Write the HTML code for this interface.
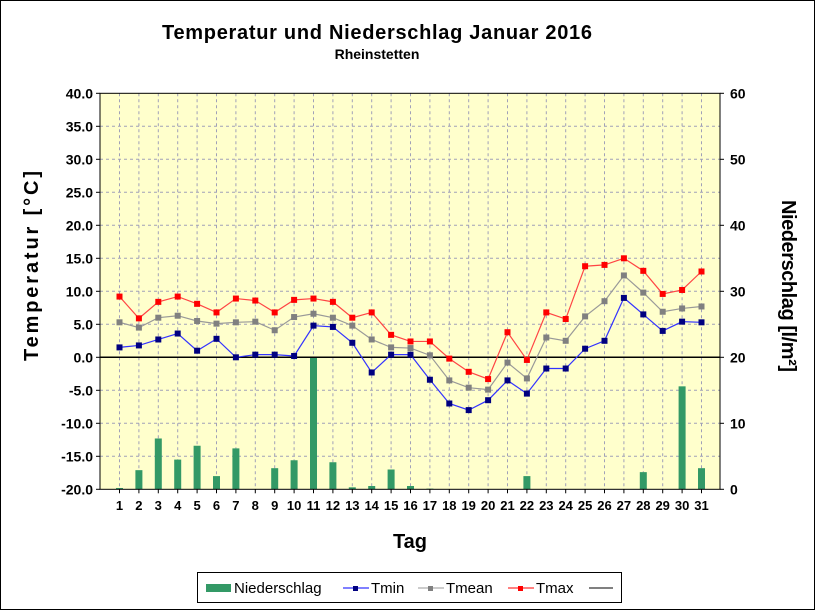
<!DOCTYPE html>
<html><head><meta charset="utf-8"><style>
body{margin:0;background:#fff}
svg{display:block;font-family:"Liberation Sans",Arial,sans-serif}
</style></head><body>
<svg id="c" width="815" height="610" viewBox="0 0 815 610">
<rect x="0.5" y="0.5" width="814" height="609" fill="#fff" stroke="#000"/>
<text x="377" y="39" text-anchor="middle" font-size="20" font-weight="bold" textLength="430">Temperatur und Niederschlag  Januar 2016</text>
<text x="377" y="59" text-anchor="middle" font-size="14" font-weight="bold">Rheinstetten</text>
<g id="plot"></g>
<text transform="translate(38,266) rotate(-90)" text-anchor="middle" font-size="20" font-weight="bold" textLength="190">Temperatur [°C]</text>
<text transform="translate(782,286) rotate(90)" text-anchor="middle" font-size="20" font-weight="bold" textLength="172">Niederschlag [l/m²]</text>
<text x="410" y="548" text-anchor="middle" font-size="20" font-weight="bold">Tag</text>
<g>
<rect x="197.5" y="572.5" width="424" height="30" fill="#fff" stroke="#000"/>
<rect x="206" y="584" width="25" height="8" fill="#339966"/>
<text x="234" y="593" font-size="15">Niederschlag</text>
<line x1="343" y1="588" x2="369" y2="588" stroke="#0000ff"/><rect x="353" y="586" width="5" height="5" fill="#000080"/>
<text x="371" y="593" font-size="15">Tmin</text>
<line x1="418" y1="588" x2="444" y2="588" stroke="#999"/><rect x="428" y="586" width="5" height="5" fill="#808080"/>
<text x="446" y="593" font-size="15">Tmean</text>
<line x1="508" y1="588" x2="534" y2="588" stroke="#ff0000"/><rect x="518" y="586" width="5" height="5" fill="#ff0000"/>
<text x="536" y="593" font-size="15">Tmax</text>
<line x1="589" y1="588" x2="613" y2="588" stroke="#000"/>
</g>
</svg>
<script>
const days=[1,2,3,4,5,6,7,8,9,10,11,12,13,14,15,16,17,18,19,20,21,22,23,24,25,26,27,28,29,30,31];
const tmax=[9.2,5.9,8.4,9.2,8.1,6.8,8.9,8.6,6.8,8.7,8.9,8.4,6.0,6.8,3.4,2.4,2.4,-0.2,-2.2,-3.3,3.8,-0.4,6.8,5.8,13.8,14.0,15.0,13.1,9.6,10.2,13.0];
const tmean=[5.3,4.5,6.0,6.3,5.5,5.1,5.3,5.4,4.1,6.1,6.6,6.0,4.8,2.7,1.5,1.4,0.3,-3.5,-4.6,-4.9,-0.8,-3.2,3.0,2.5,6.2,8.5,12.4,9.8,6.9,7.4,7.7];
const tmin=[1.5,1.8,2.7,3.6,1.0,2.8,0.0,0.4,0.4,0.2,4.8,4.6,2.2,-2.3,0.4,0.4,-3.4,-7.0,-8.0,-6.5,-3.5,-5.5,-1.7,-1.7,1.3,2.5,9.0,6.5,4.0,5.4,5.3];
const precip=[0.2,2.9,7.7,4.5,6.6,2.0,6.2,0,3.2,4.4,20.1,4.1,0.3,0.5,3.0,0.5,0.1,0,0,0,0,2.0,0,0,0,0,0,2.6,0,15.6,3.2];
const leftTicks=["-20.0","-15.0","-10.0","-5.0","0.0","5.0","10.0","15.0","20.0","25.0","30.0","35.0","40.0"];
const rightTicks=["0","10","20","30","40","50","60"];
const NS="http://www.w3.org/2000/svg";
const L=100,R=720,T=93.3,B=489.3;
const x=d=>119.5+(d-1)*19.4;
const yT=v=>B-(v+20)/60*(B-T);
const yP=v=>B-v/60*(B-T);
const g=document.getElementById('plot');
function el(t,a){const e=document.createElementNS(NS,t);for(const k in a)e.setAttribute(k,a[k]);g.appendChild(e);return e;}
let e=el('rect',{x:L,y:T,width:R-L,height:B-T,fill:'#ffffcc'});


leftTicks.forEach(t=>{const v=parseFloat(t),yy=yT(v);
 if(v>-20&&v<40){const l=el('line',{x1:L,x2:R,y1:yy,y2:yy,stroke:'#a0a0b8','stroke-dasharray':'3,3'});
 
 }
 const tx=el('text',{x:93,y:yy+5,'text-anchor':'end','font-size':14,'font-weight':'bold'});tx.textContent=t;
 
 
 el('line',{x1:L-4,x2:L,y1:yy,y2:yy,stroke:'#000'});
});
rightTicks.forEach(t=>{const yy=yP(+t);
 const tx=el('text',{x:730,y:yy+5,'font-size':14,'font-weight':'bold'});tx.textContent=t;
 
 
 el('line',{x1:R,x2:R+4,y1:yy,y2:yy,stroke:'#000'});
});
days.forEach(d=>{const xx=x(d);
 const l=el('line',{x1:xx,x2:xx,y1:T,y2:B,stroke:'#a0a0b8','stroke-dasharray':'3,3'});
 
 
 el('line',{x1:xx,x2:xx,y1:B,y2:B+4,stroke:'#000'});
 const tx=el('text',{x:xx,y:510,'text-anchor':'middle','font-size':13,'font-weight':'bold'});tx.textContent=d;
 
 
});
precip.forEach((p,i)=>{if(p<=0)return;const yy=yP(p);
 const b=el('rect',{x:x(days[i])-3.5,y:yy,width:7,height:B-yy,fill:'#339966'});
 
 
});
const z=el('line',{x1:L,x2:R,y1:yT(0),y2:yT(0),stroke:'#000','stroke-width':1.5});


function series(arr,lc,mc,name){
 const p=el('polyline',{points:arr.map((v,i)=>x(days[i])+','+yT(v)).join(' '),fill:'none',stroke:lc,'stroke-width':1.2});
 
 
 arr.forEach((v,i)=>{const m=el('rect',{x:x(days[i])-3,y:yT(v)-3,width:6,height:6,fill:mc});
 
 });
}
series(tmean,'#999999','#808080','tmean');
series(tmin,'#3333ff','#000080','tmin');
series(tmax,'#ff4444','#ff0000','tmax');
const fr=el('rect',{x:L,y:T,width:R-L,height:B-T,fill:'none',stroke:'#000'});


</script>
</body></html>
